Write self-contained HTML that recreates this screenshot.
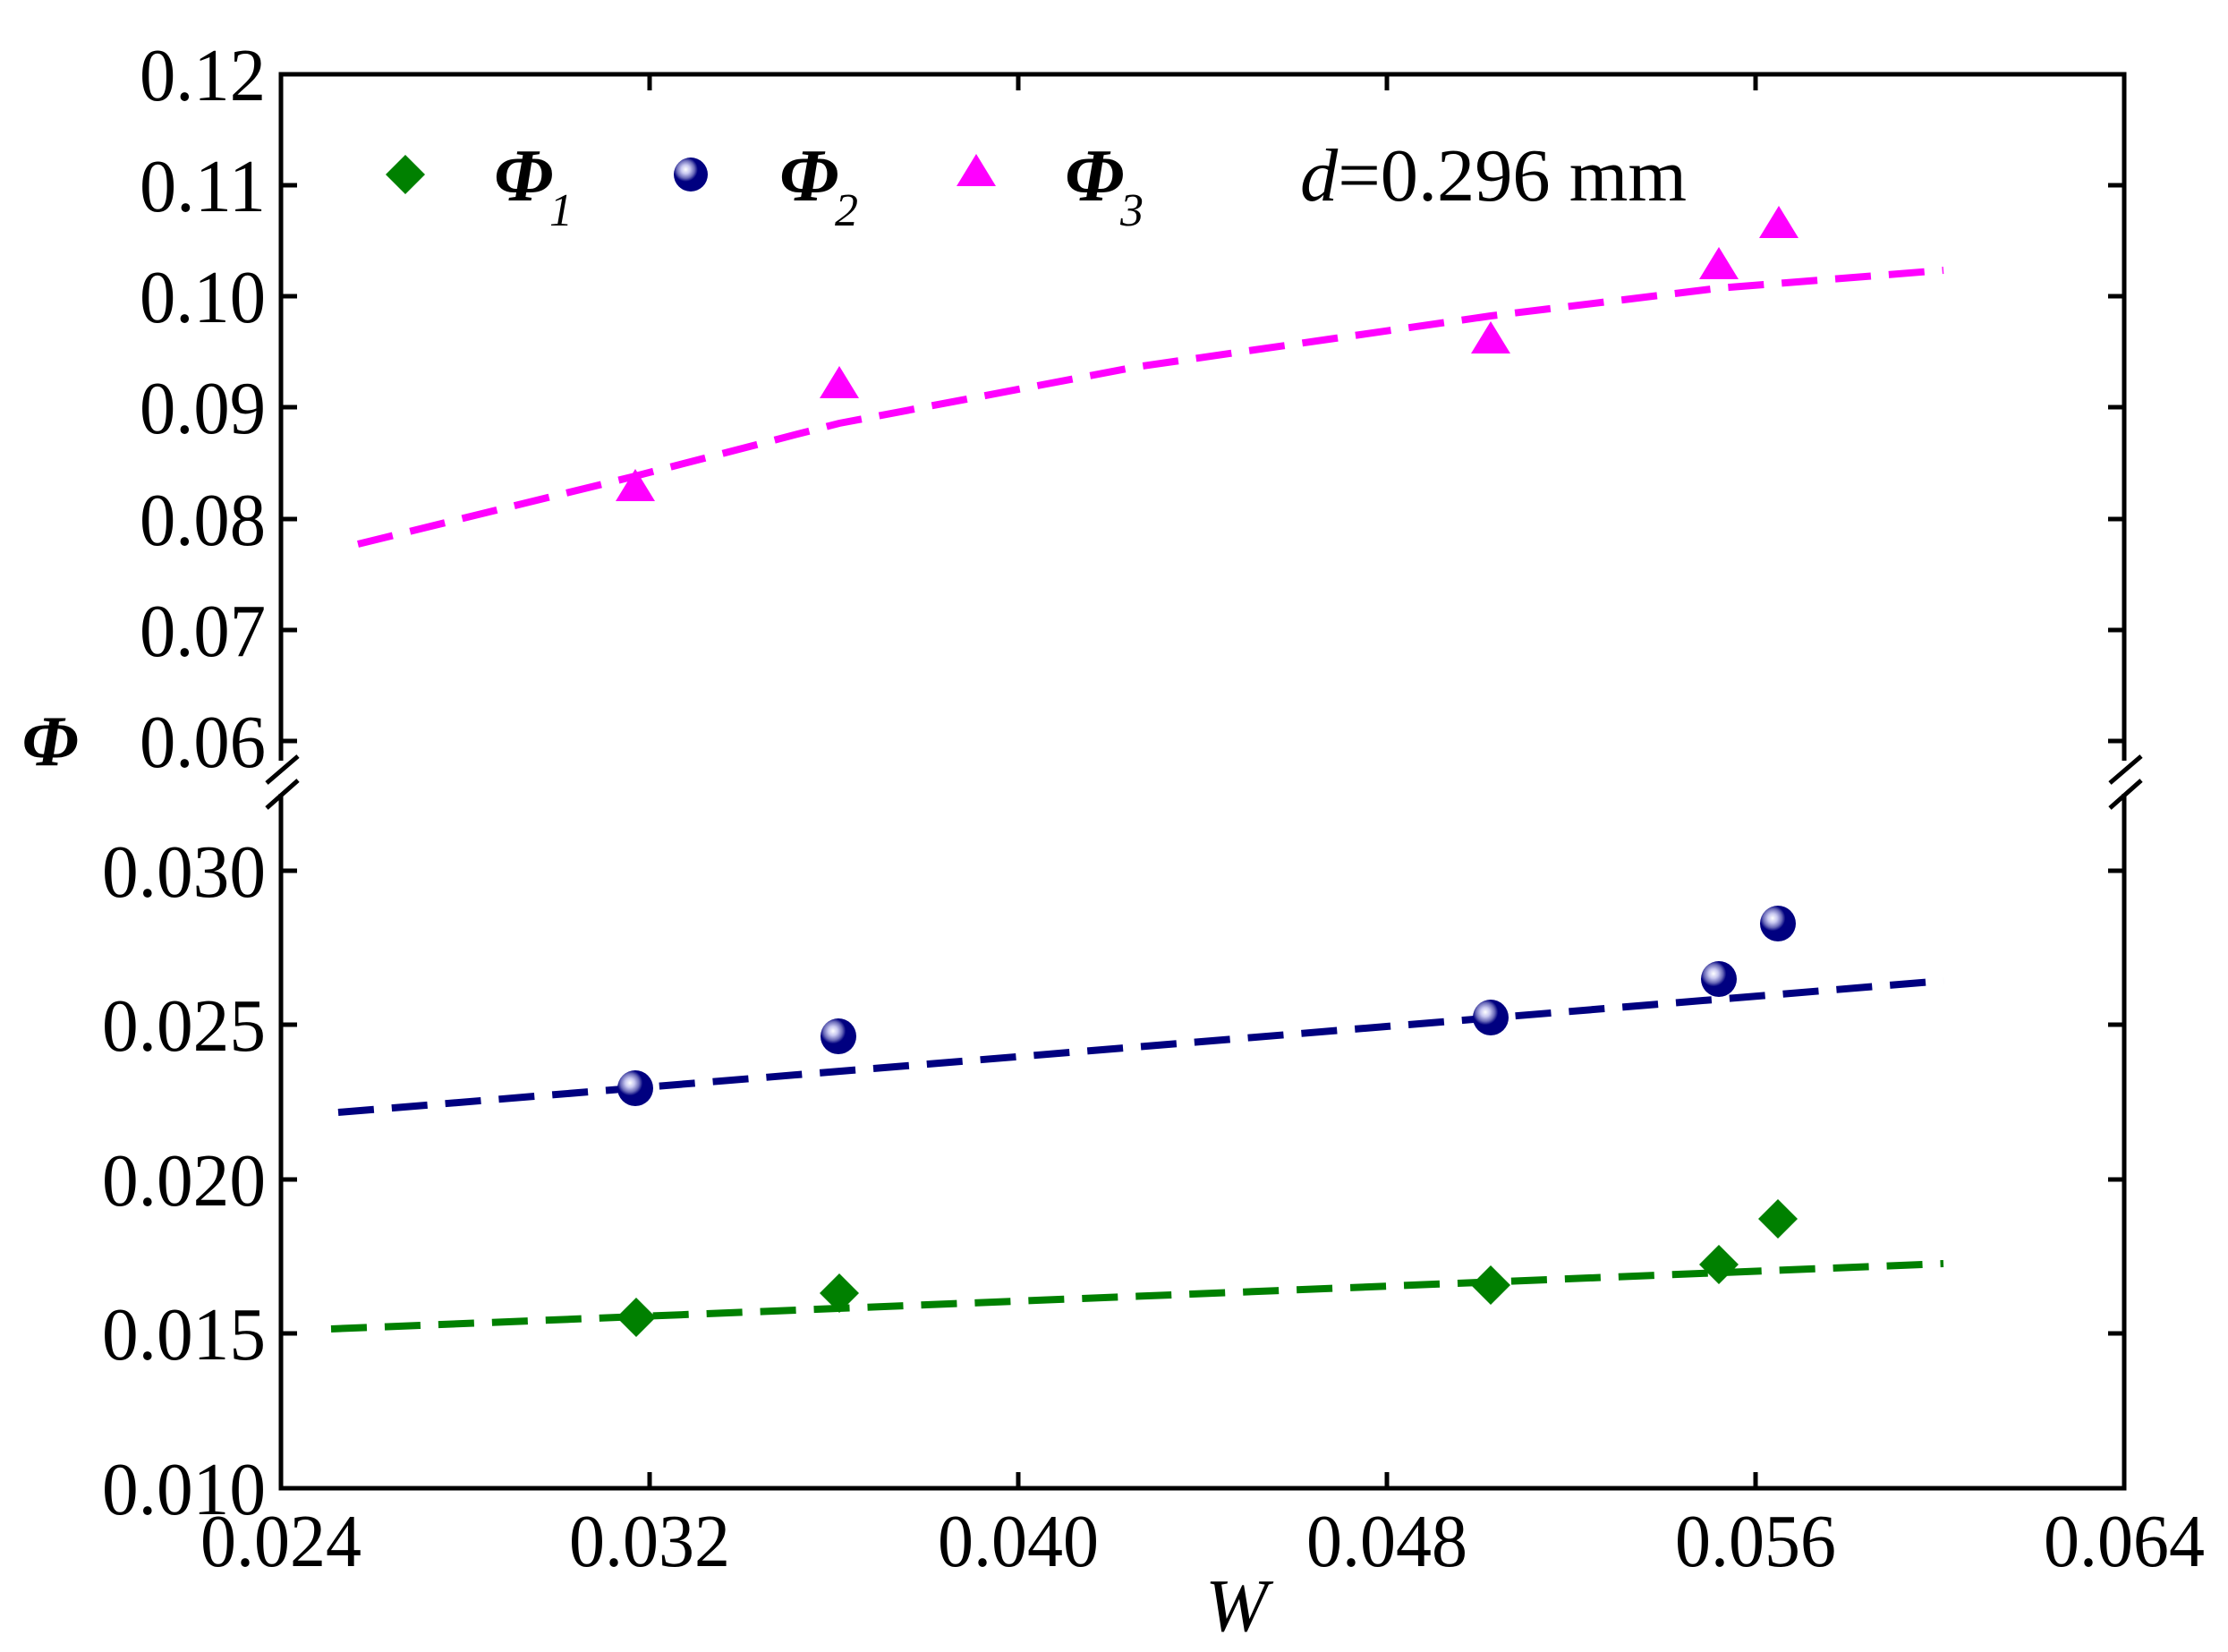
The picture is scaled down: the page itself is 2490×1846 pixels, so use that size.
<!DOCTYPE html>
<html><head><meta charset="utf-8"><style>html,body{margin:0;padding:0;background:#fff}svg{display:block}</style></head>
<body>
<svg width="2490" height="1846" viewBox="0 0 2490 1846" xmlns="http://www.w3.org/2000/svg" font-family="Liberation Serif, serif">
<defs>
<radialGradient id="ball" cx="0.35" cy="0.35" r="0.65">
<stop offset="0" stop-color="#ffffff"/><stop offset="0.2" stop-color="#c8c8f0"/><stop offset="0.4" stop-color="#6a6ab8"/><stop offset="0.55" stop-color="#000080"/><stop offset="1" stop-color="#000080"/>
</radialGradient>
</defs>
<g stroke="#000" stroke-width="5" fill="none">
<path d="M314,850 V83 H2374 V850"/>
<path d="M314,887 V1663 H2374 V887"/>
<path d="M298,875 L333,845 M298,903 L333,872"/>
<path d="M2358,875 L2393,845 M2358,903 L2393,872"/>
<path d="M314,207h18M314,331h18M314,455h18M314,580h18M314,704h18M314,828h18"/>
<path d="M2374,207h-18M2374,331h-18M2374,455h-18M2374,580h-18M2374,704h-18M2374,828h-18"/>
<path d="M314,973h18M314,1145h18M314,1318h18M314,1490h18"/>
<path d="M2374,973h-18M2374,1145h-18M2374,1318h-18M2374,1490h-18"/>
<path d="M726,1663v-18M1138,1663v-18M1550,1663v-18M1962,1663v-18"/>
<path d="M726,83v18M1138,83v18M1550,83v18M1962,83v18"/>
</g>
<g font-size="84" text-anchor="end" fill="#000">
<text x="297" y="112" textLength="141" lengthAdjust="spacingAndGlyphs">0.12</text>
<text x="297" y="236" textLength="141" lengthAdjust="spacingAndGlyphs">0.11</text>
<text x="297" y="360" textLength="141" lengthAdjust="spacingAndGlyphs">0.10</text>
<text x="297" y="484" textLength="141" lengthAdjust="spacingAndGlyphs">0.09</text>
<text x="297" y="609" textLength="141" lengthAdjust="spacingAndGlyphs">0.08</text>
<text x="297" y="733" textLength="141" lengthAdjust="spacingAndGlyphs">0.07</text>
<text x="297" y="857" textLength="141" lengthAdjust="spacingAndGlyphs">0.06</text>
<text x="297" y="1002" textLength="183" lengthAdjust="spacingAndGlyphs">0.030</text>
<text x="297" y="1174" textLength="183" lengthAdjust="spacingAndGlyphs">0.025</text>
<text x="297" y="1347" textLength="183" lengthAdjust="spacingAndGlyphs">0.020</text>
<text x="297" y="1519" textLength="183" lengthAdjust="spacingAndGlyphs">0.015</text>
<text x="297" y="1692" textLength="183" lengthAdjust="spacingAndGlyphs">0.010</text>
</g>
<g font-size="84" text-anchor="middle" fill="#000">
<text x="314" y="1750" textLength="180" lengthAdjust="spacingAndGlyphs">0.024</text>
<text x="726" y="1750" textLength="180" lengthAdjust="spacingAndGlyphs">0.032</text>
<text x="1138" y="1750" textLength="180" lengthAdjust="spacingAndGlyphs">0.040</text>
<text x="1550" y="1750" textLength="180" lengthAdjust="spacingAndGlyphs">0.048</text>
<text x="1962" y="1750" textLength="180" lengthAdjust="spacingAndGlyphs">0.056</text>
<text x="2374" y="1750" textLength="180" lengthAdjust="spacingAndGlyphs">0.064</text>
</g>
<text x="1382" y="1822" font-size="84" font-style="italic" text-anchor="middle">W</text>
<text x="56" y="855" font-size="80" font-style="italic" font-weight="bold" text-anchor="middle">Φ</text>
<g stroke-width="8" stroke-dasharray="40,20" fill="none">
<polyline points="400,608 710,532 938,473 1270,410 1666,353 1921,322 2172,302" stroke="#ff00ff"/>
<path d="M378,1243 L2172,1096" stroke="#000080"/>
<path d="M370,1485 L2172,1412" stroke="#008000"/>
</g>
<g fill="#ff00ff">
<path d="M710,524 l-22,36 h44z"/>
<path d="M938,409 l-22,36 h44z"/>
<path d="M1666,359 l-22,36 h44z"/>
<path d="M1921,276 l-22,36 h44z"/>
<path d="M1988,230 l-22,36 h44z"/>
<path d="M1091,172 l-22,36 h44z"/>
</g>
<g fill="url(#ball)">
<circle cx="710" cy="1216" r="20"/>
<circle cx="937" cy="1158" r="20"/>
<circle cx="1666" cy="1137" r="20"/>
<circle cx="1921" cy="1094" r="20"/>
<circle cx="1987" cy="1032" r="20"/>
<circle cx="772" cy="195" r="19"/>
</g>
<g fill="#008000">
<path d="M711,1450 l22,22 l-22,22 l-22,-22z"/>
<path d="M938,1423 l22,22 l-22,22 l-22,-22z"/>
<path d="M1666,1414 l22,22 l-22,22 l-22,-22z"/>
<path d="M1921,1391 l22,22 l-22,22 l-22,-22z"/>
<path d="M1987,1340 l22,22 l-22,22 l-22,-22z"/>
<path d="M453,173 l22,22 l-22,22 l-22,-22z"/>
</g>
<g font-size="84" font-style="italic" font-weight="bold">
<text x="552" y="224">Φ</text>
<text x="871" y="224">Φ</text>
<text x="1190" y="224">Φ</text>
</g>
<g font-size="52" font-style="italic">
<text x="614" y="252">1</text>
<text x="933" y="252">2</text>
<text x="1252" y="252">3</text>
</g>
<text x="1453" y="224" font-size="84" textLength="432" lengthAdjust="spacingAndGlyphs"><tspan font-style="italic">d</tspan>=0.296 mm</text>
</svg>
</body></html>
